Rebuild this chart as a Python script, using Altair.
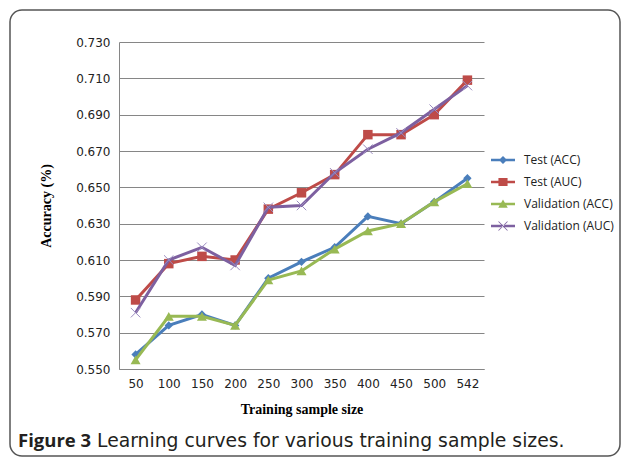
import altair as alt
import pandas as pd

sizes = ["50", "100", "150", "200", "250", "300", "350", "400", "450", "500", "542"]
series_names = ["Test (ACC)", "Test (AUC)", "Validation (ACC)", "Validation (AUC)"]
test_acc = [0.558, 0.574, 0.580, 0.574, 0.600, 0.609, 0.617, 0.634, 0.630, 0.642, 0.655]
test_auc = [0.588, 0.608, 0.612, 0.610, 0.638, 0.647, 0.657, 0.679, 0.679, 0.690, 0.709]
val_acc = [0.555, 0.579, 0.579, 0.574, 0.599, 0.604, 0.616, 0.626, 0.630, 0.642, 0.652]
val_auc = [0.581, 0.610, 0.617, 0.607, 0.639, 0.640, 0.658, 0.671, 0.680, 0.693, 0.706]
y_ticks = [0.55, 0.57, 0.59, 0.61, 0.63, 0.65, 0.67, 0.69, 0.71, 0.73]

colors = ["#4a7ebb", "#be4b48", "#98b954", "#7d60a0"]
marker_colors = ["#4a7ebb", "#be4b48", "#98b954", "#9b8cc0"]

rows = []
for name, vals in zip(series_names, [test_acc, test_auc, val_acc, val_auc]):
    for s, v in zip(sizes, vals):
        rows.append({"Size": s, "Series": name, "Accuracy": v})
df = pd.DataFrame(rows)

W, H = 365, 327

x_enc = alt.X("Size:O", sort=sizes,
              scale=alt.Scale(type="point", padding=0.5),
              axis=alt.Axis(title="Training sample size", labelAngle=0, tickSize=0,
                            labelPadding=9, titlePadding=13,
                            titleFont="Liberation Serif", titleFontSize=14,
                            titleFontWeight="bold", titleColor="#000000",
                            labelFont="DejaVu Sans", labelFontSize=12, labelColor="#222222",
                            domainColor="#868686", grid=False))
y_enc = alt.Y("Accuracy:Q",
              scale=alt.Scale(domain=[0.55, 0.73], zero=False, nice=False),
              axis=alt.Axis(title="Accuracy  (%)", values=y_ticks, format=".3f",
                            labelOverlap=False, tickSize=0, labelPadding=9, titlePadding=22,
                            titleFont="Liberation Serif", titleFontSize=14,
                            titleFontWeight="bold", titleColor="#000000",
                            labelFont="DejaVu Sans", labelFontSize=12, labelColor="#222222",
                            domainColor="#868686", gridColor="#868686", gridWidth=1))

base = alt.Chart(df).encode(x=x_enc, y=y_enc)

shape_specs = [
    dict(shape="diamond", size=70, filled=True),
    dict(shape="square", size=90, filled=True),
    dict(shape="triangle-up", size=100, filled=True),
    dict(shape="M-1,-1L1,1M-1,1L1,-1", size=90, filled=False, strokeWidth=1),
]

layers = []
for name, col, mcol, spec in zip(series_names, colors, marker_colors, shape_specs):
    sub = base.transform_filter(alt.datum.Series == name)
    layers.append(sub.mark_line(color=col, strokeWidth=3))
    pt_kwargs = dict(shape=spec["shape"], size=spec["size"], filled=spec["filled"],
                     color=(mcol if not spec["filled"] else col), opacity=1)
    if "strokeWidth" in spec:
        pt_kwargs["strokeWidth"] = spec["strokeWidth"]
    layers.append(sub.mark_point(**pt_kwargs))

line_path = "M-1,-0.11H1V0.11H-1Z"
legend_shapes = [
    line_path + "M0,-0.34L0.34,0L0,0.34L-0.34,0Z",
    line_path + "M-0.38,-0.34H0.38V0.34H-0.38Z",
    line_path + "M0,-0.38L0.4,0.32H-0.4Z",
    line_path + "M-0.4,-0.35L-0.35,-0.4L0.4,0.35L0.35,0.4Z M-0.4,0.35L-0.35,0.4L0.4,-0.35L0.35,-0.4Z",
]

leg = alt.Legend(title=None, orient="none", legendX=372, legendY=106,
                 symbolSize=576, symbolStrokeWidth=0,
                 labelFont="Open Sans", labelFontSize=12,
                 labelColor="#222222", rowPadding=4, labelOffset=9)

legend_layer = base.transform_filter("false").mark_point(filled=True, opacity=1).encode(
    color=alt.Color("Series:N", sort=series_names,
                    scale=alt.Scale(domain=series_names, range=colors), legend=leg),
    shape=alt.Shape("Series:N", sort=series_names,
                    scale=alt.Scale(domain=series_names, range=legend_shapes), legend=leg),
)

frame = alt.Chart(df).mark_rect(fill=None, stroke="#555555", strokeWidth=1.5,
                                cornerRadius=12).encode(
    x=alt.value(-109), x2=alt.value(501), y=alt.value(-32), y2=alt.value(414)
).transform_filter("datum.Size == '50' && datum.Series == 'Test (ACC)'")

cap_df = df.head(1)
cap1 = alt.Chart(cap_df).mark_text(text="Figure 3", font="Open Sans", fontSize=18.5,
                                   fontWeight="bold", align="left", baseline="alphabetic",
                                   color="#231f20").encode(
    x=alt.value(-101), y=alt.value(405))
cap2 = alt.Chart(cap_df).mark_text(text="Learning curves for various training sample sizes.",
                                   font="DejaVu Sans", fontSize=18.8, align="left",
                                   baseline="alphabetic", color="#231f20").encode(
    x=alt.value(-22), y=alt.value(405))

chart = alt.layer(frame, *layers, legend_layer, cap1, cap2).properties(
    width=W, height=H,
    autosize=alt.AutoSizeParams(type="none"),
    padding={"left": 111, "top": 34, "right": 137, "bottom": 88},
    background="white",
).configure_view(stroke=None)

chart.save("out.html", embed_options={"renderer": "svg", "actions": False})
